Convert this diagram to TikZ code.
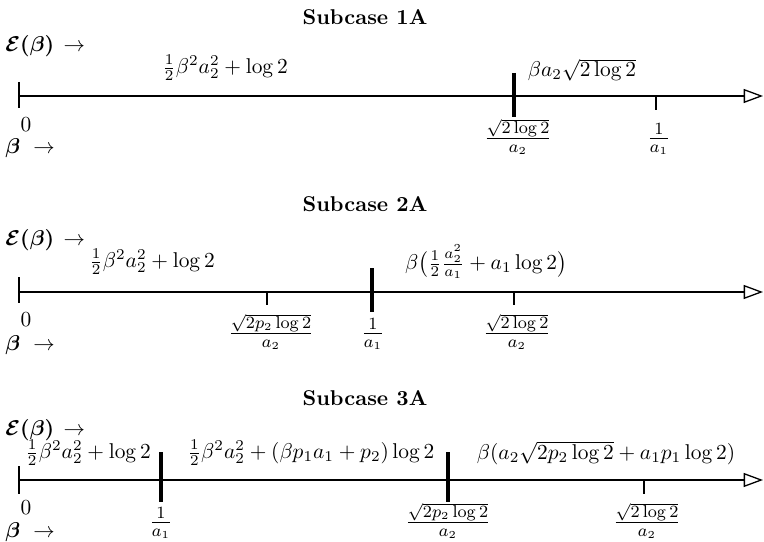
\documentclass[tikz,border=0pt]{standalone}
\usepackage{amsmath,bm}
\usetikzlibrary{arrows.meta}
\begin{document}
\begin{tikzpicture}[x=0.467pt,y=-0.467pt,
  axisline/.style={line width=0.6pt,-{Triangle[open,length=9pt,width=6.5pt,line width=0.6pt]}},
  thintick/.style={line width=0.6pt},
  thicktick/.style={line width=1.5pt},
  titlenode/.style={font=\bfseries,inner sep=0pt},
  lbl/.style={inner sep=0pt},
  ticklbl/.style={font=\fontsize{11}{13}\selectfont,inner sep=0pt,anchor=base}]
\useasboundingbox (0,0) rectangle (764,541);

% ---------- Subcase 1A ----------
\node[titlenode] (t1) at (365,17) {Subcase 1A};
\node[lbl,anchor=west] (e1) at (5,46) {$\bm{\mathcal{E}(\beta)}\,\rightarrow$};
\node[lbl,anchor=west] (b1) at (5,148) {$\bm{\beta}\ \rightarrow$};
\coordinate (s1) at (19,96);
\coordinate (end1) at (763,96);
\draw[axisline] (s1) -- (end1);
\draw[thintick] (19,82) -- (19,108);
\draw[thicktick] (514,73) -- (514,117);
\draw[thintick] (656,96) -- (656,110);
\node[lbl] (z1) at (26,125) {$0$};
\node[lbl] (f1a) at (225,68) {$\frac12\beta^2a_2^2+\log 2$};
\node[lbl] (f1b) at (582,70) {$\beta a_2\sqrt{2\log 2}$};
\node[ticklbl] (k1a) at (518,144) {$\frac{\sqrt{2\log 2}}{a_2}$};
\node[ticklbl] (k1b) at (659,144) {$\frac{1}{a_1}$};

% ---------- Subcase 2A ----------
\node[titlenode] (t2) at (365,204) {Subcase 2A};
\node[lbl,anchor=west] (e2) at (5,240) {$\bm{\mathcal{E}(\beta)}\,\rightarrow$};
\node[lbl,anchor=west] (b2) at (5,345) {$\bm{\beta}\ \rightarrow$};
\coordinate (s2) at (19,292);
\coordinate (end2) at (763,292);
\draw[axisline] (s2) -- (end2);
\draw[thintick] (19,277) -- (19,303);
\draw[thintick] (267,292) -- (267,305);
\draw[thicktick] (372,268) -- (372,312);
\draw[thintick] (514,292) -- (514,305);
\node[lbl] (z2) at (26,320) {$0$};
\node[lbl] (f2a) at (152,262) {$\frac12\beta^2a_2^2+\log 2$};
\node[lbl] (f2b) at (486,262) {$\beta\bigl(\frac12\frac{a_2^2}{a_1}+a_1\log 2\bigr)$};
\node[ticklbl] (k2a) at (271,339) {$\frac{\sqrt{2p_2\log 2}}{a_2}$};
\node[ticklbl] (k2b) at (373,339) {$\frac{1}{a_1}$};
\node[ticklbl] (k2c) at (517,339) {$\frac{\sqrt{2\log 2}}{a_2}$};

% ---------- Subcase 3A ----------
\node[titlenode] (t3) at (365,398) {Subcase 3A};
\node[lbl,anchor=west] (e3) at (5,430) {$\bm{\mathcal{E}(\beta)}\,\rightarrow$};
\node[lbl,anchor=west] (b3) at (5,532) {$\bm{\beta}\ \rightarrow$};
\coordinate (s3) at (19,480);
\coordinate (end3) at (763,480);
\draw[axisline] (s3) -- (end3);
\draw[thintick] (19,466) -- (19,494);
\draw[thicktick] (161,452) -- (161,502);
\draw[thicktick] (448,452) -- (448,502);
\draw[thintick] (644,480) -- (644,494);
\node[lbl] (z3) at (26,508) {$0$};
\node[lbl] (f3a) at (88,453) {$\frac12\beta^2a_2^2+\log 2$};
\node[lbl] (f3b) at (311,453) {$\frac12\beta^2a_2^2+(\beta p_1a_1+p_2)\log 2$};
\node[lbl] (f3c) at (606,453) {$\beta(a_2\sqrt{2p_2\log 2}+a_1p_1\log 2)$};
\node[ticklbl] (k3a) at (161,528) {$\frac{1}{a_1}$};
\node[ticklbl] (k3b) at (448,528) {$\frac{\sqrt{2p_2\log 2}}{a_2}$};
\node[ticklbl] (k3c) at (647,528) {$\frac{\sqrt{2\log 2}}{a_2}$};
\end{tikzpicture}
\end{document}
